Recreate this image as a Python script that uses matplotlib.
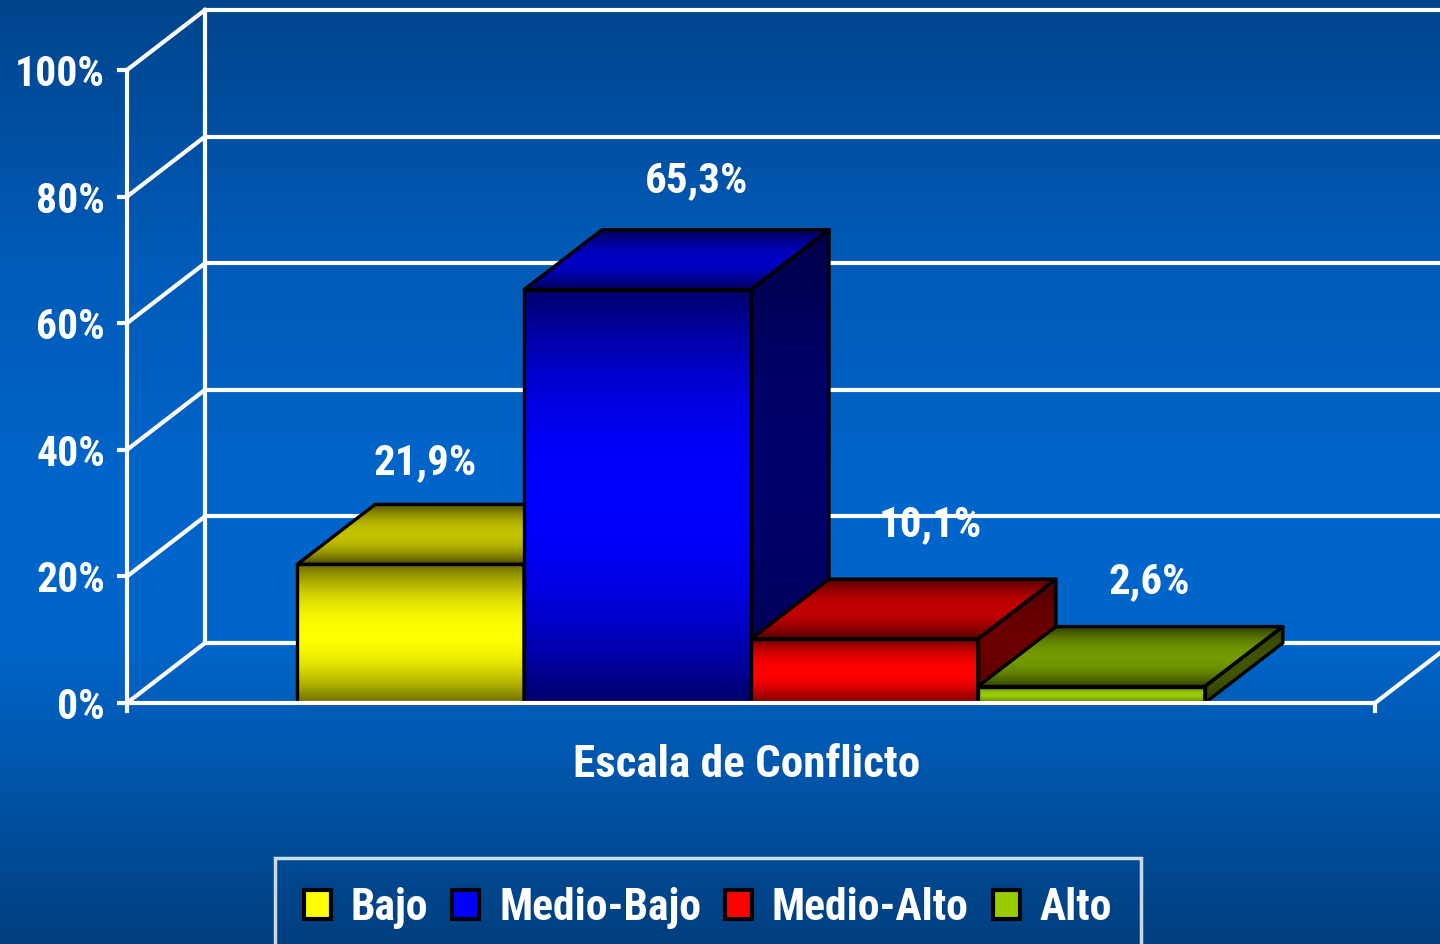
import numpy as np
import matplotlib.pyplot as plt
from matplotlib.patches import Polygon, Patch

# datos
categorias = ['Bajo', 'Medio-Bajo', 'Medio-Alto', 'Alto']
valores = [21.9, 65.3, 10.1, 2.6]
etiquetas = ['21,9%', '65,3%', '10,1%', '2,6%']
ticks = [0, 20, 40, 60, 80, 100]
tick_labels = ['0%', '20%', '40%', '60%', '80%', '100%']
titulo_x = 'Escala de Conflicto'
colores = [(1.0, 1.0, 0.0), (0.0, 0.0, 1.0), (1.0, 0.0, 0.0), (0.6, 0.8, 0.0)]

FUENTE = ['Roboto Condensed', 'Liberation Sans', 'DejaVu Sans']

W, H = 1440, 944
PXX = 1248.0   # pixeles por unidad de categoria
PXY = 6.33     # pixeles por punto porcentual
X0, Y0 = 127, 703  # origen del plano frontal (px desde arriba/izquierda)
DX = 78 / PXX
DY = 60 / PXY

fig = plt.figure(figsize=(W / 100, H / 100), dpi=100)

# fondo degradado
bg = fig.add_axes([0, 0, 1, 1])
bg.axis('off')
sy = [0, 250, 500, 650, 800, 944]
sg = [68, 90, 102, 100, 82, 62]
sb = [140, 182, 204, 200, 164, 126]
yy = np.arange(H)
img = np.zeros((H, 1, 3))
img[:, 0, 1] = np.interp(yy, sy, sg) / 255
img[:, 0, 2] = np.interp(yy, sy, sb) / 255
bg.imshow(img, aspect='auto', extent=[0, 1, 0, 1])

ax = fig.add_axes([0, 0, 1, 1])
ax.axis('off')
ax.patch.set_alpha(0)
xlim = (-X0 / PXX, (W - X0) / PXX)
ylim = (-(H - Y0) / PXY, Y0 / PXY)

LW = 3
blanco = 'white'
# paredes y rejilla
for t in ticks:
    ax.plot([0, DX], [t, t + DY], color=blanco, lw=LW, zorder=2, solid_capstyle='projecting')
    ax.plot([DX, 1 + DX + 0.2], [t + DY, t + DY], color=blanco, lw=LW, zorder=2)
    ax.plot([-8 / PXX, 0], [t, t], color=blanco, lw=LW, zorder=2)
ax.plot([DX, DX], [DY, 100 + DY], color=blanco, lw=LW, zorder=2)
ax.plot([0, 0], [-8 / PXY, 100], color=blanco, lw=LW, zorder=2)
ax.plot([1, 1 + DX], [0, DY], color=blanco, lw=LW, zorder=2)
ax.plot([1, 1], [-8 / PXY, 0], color=blanco, lw=LW, zorder=2)
ax.plot([0, 1], [0, 0], color=blanco, lw=LW, zorder=60)

for t, lab in zip(ticks, tick_labels):
    ax.text(-22 / PXX, t, lab, ha='right', va='center_baseline', color=blanco,
            fontsize=30, fontweight='bold', family=FUENTE)


def cara(verts, color, fmin, fmax, z):
    poly = Polygon(verts, closed=True, facecolor='none', edgecolor='black',
                   lw=2.4, joinstyle='round', zorder=z + 0.5)
    ax.add_patch(poly)
    xs = [v[0] for v in verts]
    ys = [v[1] for v in verts]
    t = np.linspace(0, 1, 128)
    f = fmin + (fmax - fmin) * (1 - (2 * t - 1) ** 2)
    g = np.array(color)[None, None, :] * f[:, None, None]
    im = ax.imshow(g, extent=[min(xs), max(xs), min(ys), max(ys)], origin='lower',
                   aspect='auto', interpolation='bilinear', zorder=z)
    im.set_clip_path(poly)


n = len(valores)
w = 1.0 / (n + 1.5)
lab_dx = [14, 59, 66, 58]
lab_dy = [30, 37, 43, 33]
for i, (v, c) in enumerate(zip(valores, colores)):
    xl = 0.75 * w + i * w
    xr = xl + w
    z = 10 + i * 2
    cara([(xl, 0), (xr, 0), (xr, v), (xl, v)], c, 0.42, 1.0, z)
    cara([(xl, v), (xl + DX, v + DY), (xr + DX, v + DY), (xr, v)], c, 0.3, 0.76, z)
    cara([(xr, 0), (xr + DX, DY), (xr + DX, v + DY), (xr, v)], c, 0.28, 0.42, z)
    ax.text(xl + w / 2 + lab_dx[i] / PXX, v + DY + lab_dy[i] / PXY, etiquetas[i],
            ha='center', va='baseline', color=blanco, fontsize=31,
            fontweight='bold', family=FUENTE, zorder=70)

ax.text(0.5 - 4 / PXX, -74 / PXY, titulo_x, ha='center', va='baseline', color=blanco,
        fontsize=32.5, fontweight='bold', family=FUENTE)

handles = [Patch(facecolor=c, edgecolor='black', lw=3) for c in colores]
leg = fig.legend(handles, categorias, loc='upper left', bbox_to_anchor=(275 / W, 1 - 858 / H),
                 ncol=4, frameon=True, fancybox=False,
                 prop={'family': FUENTE, 'weight': 'bold', 'size': 31.5},
                 handlelength=0.62, handleheight=0.62, handletextpad=0.45,
                 columnspacing=0.55, borderpad=0.66, borderaxespad=0)
for tx in leg.get_texts():
    tx.set_color(blanco)
leg.get_frame().set_facecolor('none')
leg.get_frame().set_edgecolor(blanco)
leg.get_frame().set_linewidth(2.5)

ax.set_xlim(xlim)
ax.set_ylim(ylim)
fig.savefig('out.png', dpi=100)
